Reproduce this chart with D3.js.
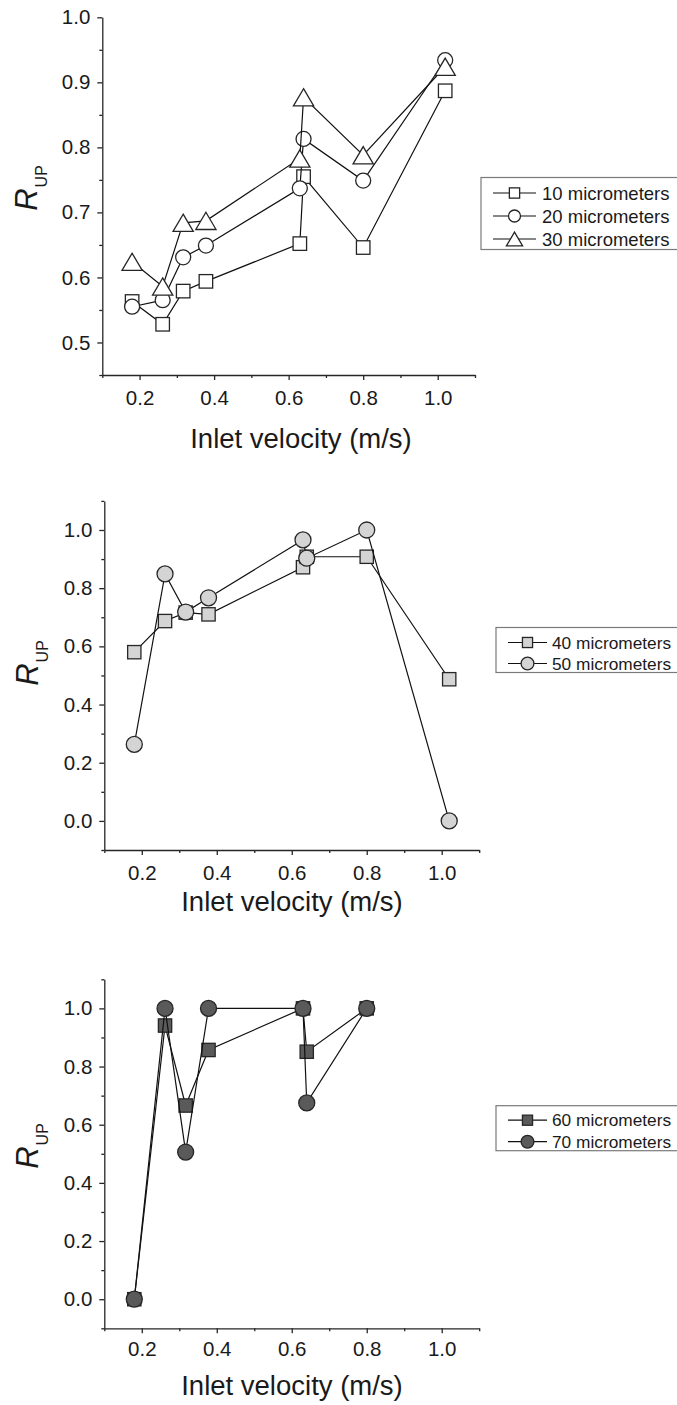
<!DOCTYPE html>
<html>
<head>
<meta charset="utf-8">
<script src="https://cdn.jsdelivr.net/npm/d3@7"></script>
<style>
  body { margin: 0; background: #fff; }
  text { font-family: Arial, 'Liberation Sans', sans-serif; fill: #1a1a1a; }
</style>
</head>
<body>
<svg id="drawing_region"></svg>
<script>
// inlet velocity (m/s) per measurement point
const velocity = [0.18, 0.262, 0.317, 0.378, 0.630, 0.640, 0.800, 1.020];
const velocityShort = [0.18, 0.262, 0.317, 0.378, 0.630, 0.640, 0.800];

// R_UP values
const r10 = [0.563, 0.528, 0.579, 0.594, 0.652, 0.755, 0.646, 0.887];
const r20 = [0.555, 0.565, 0.631, 0.649, 0.737, 0.813, 0.749, 0.934];
const r30 = [0.624, 0.586, 0.684, 0.687, 0.783, 0.877, 0.788, 0.924];
const r40 = [0.580, 0.687, 0.716, 0.710, 0.872, 0.908, 0.908, 0.487];
const r50 = [0.263, 0.849, 0.718, 0.767, 0.966, 0.903, 1.000, 0.000];
const r60 = [0.000, 0.941, 0.666, 0.857, 1.000, 0.851, 1.000];
const r70 = [0.000, 1.000, 0.506, 1.000, 1.000, 0.675, 1.000];

const xTicks = [0.2, 0.4, 0.6, 0.8, 1.0];
const xMinor = [0.1, 0.3, 0.5, 0.7, 0.9, 1.1];
const yTicksTop = [0.5, 0.6, 0.7, 0.8, 0.9, 1.0];
const yMinorTop = [0.45, 0.55, 0.65, 0.75, 0.85, 0.95];
const yTicks = [0.0, 0.2, 0.4, 0.6, 0.8, 1.0];
const yMinor = [-0.1, 0.1, 0.3, 0.5, 0.7, 0.9, 1.1];

const W = 677, H = 1405;
const svg = d3.select('#drawing_region').attr('width', W).attr('height', H);

const panels = [
    {
        left: 102.3, right: 475, top: 17.3, bottom: 375,
        yDomain: [0.45, 1.0], yTicks: yTicksTop, yMinor: yMinorTop,
        xPad: 10, xlabelY: 448, xlabelX: 301, ylabel: {x: 37, y: 188},
        legend: {x: 481, y: 177.5, w: 200, h: 72, row0: 15.5, step: 23, font: 18.5, text: 61, sym: [493, 536]},
        fill: '#ffffff', r: 7.5, sq: 13.5,
        series: [
            {name: '10 micrometers', shape: 'square', x: velocity, y: r10},
            {name: '20 micrometers', shape: 'circle', x: velocity, y: r20},
            {name: '30 micrometers', shape: 'triangle', x: velocity, y: r30},
        ]
    },
    {
        left: 104.3, right: 479.2, top: 500.9, bottom: 850,
        yDomain: [-0.1, 1.1], yTicks: yTicks, yMinor: yMinor,
        xPad: 10, xlabelY: 911, xlabelX: 292, ylabel: {x: 38, y: 663},
        legend: {x: 496, y: 627.5, w: 190, h: 45, row0: 15, step: 21, font: 17.3, text: 56, sym: [508, 547]},
        fill: '#d4d4d4', r: 8, sq: 13.3,
        series: [
            {name: '40 micrometers', shape: 'square', x: velocity, y: r40},
            {name: '50 micrometers', shape: 'circle', x: velocity, y: r50},
        ]
    },
    {
        left: 104.3, right: 479.2, top: 979.3, bottom: 1328.3,
        yDomain: [-0.1, 1.1], yTicks: yTicks, yMinor: yMinor,
        xPad: 8, xlabelY: 1395, xlabelX: 292, ylabel: {x: 38, y: 1146},
        legend: {x: 496, y: 1105.7, w: 190, h: 45, row0: 14.5, step: 21.5, font: 17.3, text: 56, sym: [508, 547]},
        fill: '#5a5a5a', r: 8, sq: 13.3,
        series: [
            {name: '60 micrometers', shape: 'square', x: velocityShort, y: r60},
            {name: '70 micrometers', shape: 'circle', x: velocityShort, y: r70},
        ]
    }
];

function marker(sel, shape, fill, r, sq) {
    let m;
    if (shape === 'circle') {
        m = sel.append('circle').attr('r', r);
    } else if (shape === 'square') {
        m = sel.append('rect')
            .attr('x', -sq / 2).attr('y', -sq / 2)
            .attr('width', sq).attr('height', sq);
    } else {
        const w = r * 1.35, h = r * 1.15;
        m = sel.append('path').attr('d', `M0,${-h}L${w},${h}L${-w},${h}Z`);
    }
    m.attr('fill', fill).attr('stroke', '#262626').attr('stroke-width', 1.3);
    return m;
}

panels.forEach(p => {
    const xscale = d3.scaleLinear().domain([0.1, 1.1]).range([p.left, p.right]);
    const yscale = d3.scaleLinear().domain(p.yDomain).range([p.bottom, p.top]);
    const g = svg.append('g');

    // axes
    g.append('g')
        .attr('transform', `translate(0, ${p.bottom})`)
        .call(d3.axisBottom(xscale).tickValues(xTicks).tickSize(5).tickSizeOuter(0)
            .tickPadding(p.xPad).tickFormat(d3.format('.1f')));
    g.append('g')
        .attr('transform', `translate(0, ${p.bottom})`)
        .call(d3.axisBottom(xscale).tickValues(xMinor).tickSize(3).tickSizeOuter(0).tickFormat(''))
        .select('.domain').remove();

    g.append('g')
        .attr('transform', `translate(${p.left}, 0)`)
        .call(d3.axisLeft(yscale).tickValues(p.yTicks).tickSize(5).tickSizeOuter(0)
            .tickPadding(7).tickFormat(d3.format('.1f')));
    g.append('g')
        .attr('transform', `translate(${p.left}, 0)`)
        .call(d3.axisLeft(yscale).tickValues(p.yMinor).tickSize(3).tickSizeOuter(0).tickFormat(''))
        .select('.domain').remove();

    g.selectAll('.domain, .tick line').attr('stroke', '#262626').attr('stroke-width', 1.3);
    g.selectAll('.tick text')
        .style('font-size', '20.5px').attr('fill', '#1a1a1a')
        .style('font-family', "Arial, 'Liberation Sans', sans-serif");

    // axis labels
    g.append('text')
        .attr('x', p.xlabelX).attr('y', p.xlabelY)
        .attr('text-anchor', 'middle')
        .attr('font-size', 27.5)
        .text('Inlet velocity (m/s)');

    const yl = g.append('text')
        .attr('transform', `translate(${p.ylabel.x}, ${p.ylabel.y}) rotate(-90)`)
        .attr('text-anchor', 'middle');
    yl.append('tspan').attr('font-size', 31).attr('font-style', 'italic').text('R');
    yl.append('tspan').attr('font-size', 16).attr('dy', 10).attr('dx', 1).text('UP');

    // series
    const line = d3.line().x(d => xscale(d[0])).y(d => yscale(d[1]));
    p.series.forEach(s => {
        const pts = s.x.map((v, i) => [v, s.y[i]]);
        g.append('path')
            .datum(pts)
            .attr('d', line)
            .attr('fill', 'none')
            .attr('stroke', '#111')
            .attr('stroke-width', 1.2);
        g.append('g').selectAll('g')
            .data(pts)
            .join('g')
            .attr('transform', d => `translate(${xscale(d[0])}, ${yscale(d[1])})`)
            .each(function () { marker(d3.select(this), s.shape, p.fill, p.r, p.sq); });
    });

    // legend
    const L = p.legend;
    const lg = svg.append('g').attr('transform', `translate(${L.x}, ${L.y})`);
    lg.append('rect')
        .attr('width', L.w).attr('height', L.h)
        .attr('fill', '#fff').attr('stroke', '#7a7a7a').attr('stroke-width', 1.2);
    p.series.forEach((s, i) => {
        const cy = L.row0 + i * L.step;
        const x0 = L.sym[0] - L.x, x1 = L.sym[1] - L.x;
        lg.append('line')
            .attr('x1', x0).attr('x2', x1).attr('y1', cy).attr('y2', cy)
            .attr('stroke', '#111').attr('stroke-width', 1.2);
        const mg = lg.append('g').attr('transform', `translate(${(x0 + x1) / 2}, ${cy})`);
        marker(mg, s.shape, p.fill, p.r * 0.8, p.sq * 0.76);
        lg.append('text')
            .attr('x', L.text).attr('y', cy)
            .attr('dy', '0.36em')
            .attr('font-size', L.font)
            .text(s.name);
    });
});
</script>
</body>
</html>
